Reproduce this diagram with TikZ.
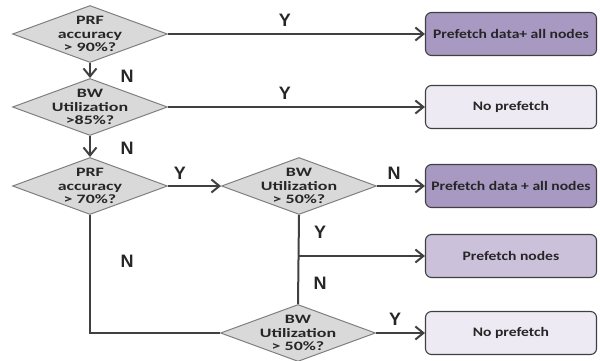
\documentclass[tikz,border=0pt]{standalone}
\usepackage{fontspec}
\newfontfamily\dfont{Carlito Bold}[FakeStretch=1.2]
\newfontfamily\diafont{Carlito Bold}[FakeStretch=1.4]
\newfontfamily\ynfont{Liberation Sans Bold}
\usetikzlibrary{shapes.geometric,arrows.meta}
\definecolor{diafill}{HTML}{D9D9D9}
\definecolor{diaedge}{HTML}{7F7F7F}
\definecolor{linec}{HTML}{404040}
\definecolor{txtc}{HTML}{262626}
\definecolor{pdark}{HTML}{A899C2}
\definecolor{pmid}{HTML}{CCC1DA}
\definecolor{plight}{HTML}{EDEAF3}
\tikzset{
  dia/.style={diamond, draw=diaedge, fill=diafill, line width=1pt, minimum width=155pt, minimum height=57pt, inner sep=0pt, aspect=2.7},
  dtext/.style={align=center, text=txtc, font=\fontsize{12.8}{13.6}\diafont, inner sep=0pt},
  box/.style={draw=linec, line width=1.1pt, rounded corners=6pt, minimum width=171pt, minimum height=43pt, text=txtc, font=\fontsize{13}{14}\dfont},
  conn/.style={draw=linec, line width=2pt},
  arr/.style={conn, -{Straight Barb[length=8pt,width=13pt,line width=2pt]}},
  yn/.style={text=txtc, font=\fontsize{18}{19}\ynfont, inner sep=0pt}
}
\begin{document}
\begin{tikzpicture}[x=1pt,y=-1pt]
\useasboundingbox (0,0) rectangle (600,360);
% decisions
\node[dia] (d1) at (90,34) {};
\node[dia] (d2) at (90,107) {};
\node[dia] (d3) at (90,186) {};
\node[dia] (d4) at (299,186) {};
\node[dia] (d5) at (298,333) {};
\node[dtext] (t1) at (d1) {PRF\\accuracy\\> 90\%?};
\node[dtext] (t2) at (d2) {BW\\Utilization\\>85\%?};
\node[dtext] (t3) at (d3) {PRF\\accuracy\\> 70\%?};
\node[dtext] (t4) at (d4) {BW\\Utilization\\> 50\%?};
\node[dtext] (t5) at (d5) {BW\\Utilization\\> 50\%?};
% outcomes
\node[box, fill=pdark] (b1) at (511,34) {Prefetch data+ all nodes};
\node[box, fill=plight] (b2) at (511,107) {No prefetch};
\node[box, fill=pdark] (b3) at (511,186) {Prefetch data + all nodes};
\node[box, fill=pmid] (b4) at (511,256) {Prefetch nodes};
\node[box, fill=plight] (b5) at (511,333) {No prefetch};
% connectors
\draw[arr] (d1.east) -- (b1.west);
\draw[arr] (d1.south) -- (d2.north);
\draw[arr] (d2.east) -- (b2.west);
\draw[arr] (d2.south) -- (d3.north);
\draw[arr] (d3.east) -- (d4.west);
\draw[arr] (d4.east) -- (b3.west);
\draw[conn] (d4.south) -- (d5.north);
\coordinate (j) at (d4.south |- b4.west);
\draw[arr] (j) -- (b4.west);
\draw[conn] (d3.south) |- (d5.west);
\draw[arr] (d5.east) -- (b5.west);
% labels
\node[yn] (y1) at (285,20) {Y};
\node[yn] (n1) at (127,76) {N};
\node[yn] (y2) at (285,93) {Y};
\node[yn] (n2) at (127,148) {N};
\node[yn] (y3) at (180,173) {Y};
\node[yn] (n3) at (394,173) {N};
\node[yn] (y4) at (320,232) {Y};
\node[yn] (n4) at (320,283) {N};
\node[yn] (n5) at (127,261) {N};
\node[yn] (y5) at (395,319) {Y};
\end{tikzpicture}
\end{document}
